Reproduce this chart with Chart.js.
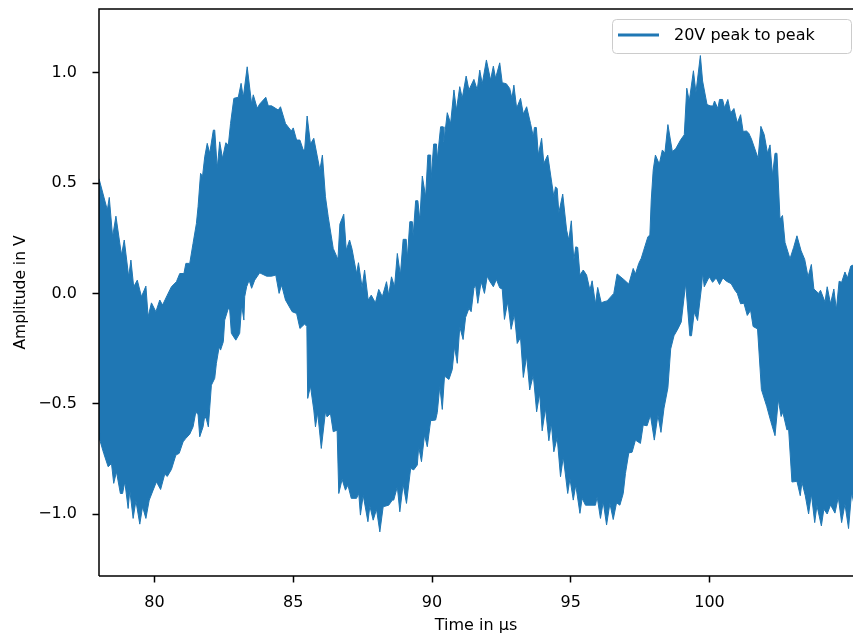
<!DOCTYPE html>
<html>
<head>
<meta charset="utf-8">
<script src="https://cdn.jsdelivr.net/npm/chart.js@4.4.1/dist/chart.umd.min.js"></script>
<style>
  html, body { margin: 0; padding: 0; background: #fff; }
  #wrap { width: 853px; height: 637px; }
</style>
</head>
<body>
<div id="wrap"><canvas id="chart" width="853" height="637"></canvas></div>
<script>
(function(){
  // upper and lower edge of the dense signal band (time in µs, amplitude in V)
  const tUpper = [
    78.00,78.30,78.37,78.49,78.61,78.81,78.91,79.07,79.15,79.25,
    79.38,79.53,79.69,79.77,79.89,80.05,80.19,80.29,80.46,80.61,
    80.79,80.91,81.06,81.13,81.27,81.39,81.51,81.57,81.66,81.73,
    81.81,81.90,81.99,82.12,82.17,82.26,82.35,82.45,82.57,82.66,
    82.74,82.86,83.02,83.12,83.20,83.34,83.50,83.56,83.70,83.79,
    84.01,84.10,84.22,84.46,84.54,84.72,84.93,85.00,85.12,85.24,
    85.36,85.41,85.50,85.62,85.74,85.96,86.05,86.16,86.26,86.44,
    86.61,86.68,86.82,86.91,87.03,87.12,87.28,87.35,87.48,87.57,
    87.70,87.81,87.96,88.08,88.21,88.36,88.44,88.54,88.65,88.75,
    88.86,88.96,89.07,89.11,89.20,89.29,89.32,89.41,89.49,89.56,
    89.65,89.77,89.85,89.95,89.97,90.06,90.16,90.19,90.31,90.40,
    90.43,90.55,90.67,90.79,90.88,91.00,91.09,91.23,91.33,91.51,
    91.63,91.72,91.81,91.96,92.11,92.21,92.29,92.44,92.53,92.68,
    92.80,92.88,92.95,93.05,93.19,93.29,93.41,93.55,93.65,93.69,
    93.76,93.83,93.95,94.03,94.17,94.30,94.39,94.45,94.51,94.57,
    94.71,94.85,94.93,95.02,95.11,95.18,95.25,95.33,95.45,95.57,
    95.69,95.77,95.89,95.97,96.10,96.19,96.31,96.55,96.67,96.91,
    97.09,97.25,97.33,97.45,97.54,97.63,97.78,97.85,97.90,97.97,
    98.05,98.19,98.30,98.39,98.50,98.66,98.78,98.96,99.09,99.18,
    99.27,99.42,99.51,99.67,99.75,99.91,100.02,100.12,100.18,100.30,
    100.36,100.47,100.54,100.66,100.76,100.88,101.00,101.12,101.21,101.33,
    101.41,101.51,101.75,101.85,101.97,102.09,102.18,102.27,102.36,102.43,
    102.54,102.63,102.72,102.90,103.03,103.15,103.30,103.43,103.55,103.67,
    103.76,103.93,104.00,104.16,104.24,104.36,104.48,104.57,104.67,104.76,
    104.88,104.97,105.09,105.21
  ];
  const vUpper = [
    0.52,0.378,0.435,0.257,0.35,0.174,0.242,0.075,0.151,0.03,
    0.06,-0.015,0.033,-0.106,-0.043,-0.083,-0.03,-0.053,-0.008,0.03,
    0.053,0.09,0.09,0.136,0.136,0.227,0.317,0.393,0.544,0.53,
    0.619,0.68,0.635,0.74,0.74,0.567,0.687,0.612,0.683,0.672,
    0.77,0.884,0.889,0.952,0.889,1.027,0.858,0.9,0.839,0.858,
    0.889,0.85,0.85,0.831,0.846,0.77,0.736,0.75,0.695,0.695,
    0.65,0.65,0.804,0.677,0.703,0.559,0.627,0.438,0.347,0.204,
    0.154,0.314,0.359,0.196,0.242,0.2,0.09,0.139,0.027,0.106,
    -0.03,-0.008,-0.043,0.018,-0.015,0.053,-0.008,0.075,0.03,0.181,
    0.083,0.245,0.245,0.159,0.325,0.325,0.26,0.42,0.42,0.332,
    0.532,0.438,0.627,0.627,0.521,0.677,0.677,0.607,0.755,0.755,
    0.687,0.819,0.77,0.922,0.831,0.937,0.885,0.985,0.922,0.97,
    0.922,1.012,0.95,1.058,0.967,1.03,0.975,1.045,0.955,0.95,
    0.929,0.884,0.944,0.839,0.884,0.813,0.846,0.77,0.71,0.752,
    0.752,0.627,0.703,0.589,0.627,0.514,0.438,0.483,0.475,0.365,
    0.45,0.287,0.242,0.329,0.151,0.211,0.208,0.083,0.106,0.083,
    0.015,0.057,-0.048,0.027,-0.043,-0.038,-0.034,0,0.088,0.063,
    0.042,0.113,0.088,0.136,0.159,0.196,0.257,0.264,0.423,0.559,
    0.627,0.586,0.65,0.635,0.765,0.643,0.655,0.696,0.719,0.93,
    0.872,1.009,0.91,1.078,0.963,0.856,0.85,0.849,0.872,0.838,
    0.879,0.879,0.841,0.879,0.818,0.838,0.772,0.81,0.734,0.736,
    0.727,0.70,0.612,0.757,0.72,0.635,0.673,0.536,0.635,0.635,
    0.337,0.353,0.231,0.157,0.208,0.261,0.193,0.154,0.075,0.131,
    0.02,0.0,0.014,-0.039,0.03,-0.047,0.02,-0.074,0.055,0.05,
    0.097,0.07,0.124,0.13
  ];
  const tLower = [
    78.00,78.03,78.17,78.33,78.45,78.53,78.63,78.77,78.85,78.93,
    79.05,79.11,79.23,79.33,79.47,79.57,79.69,79.81,79.95,80.07,
    80.22,80.37,80.46,80.61,80.77,80.89,81.03,81.13,81.27,81.39,
    81.49,81.57,81.63,81.75,81.81,81.87,81.94,81.99,82.05,82.17,
    82.23,82.33,82.38,82.48,82.53,82.66,82.71,82.77,82.93,83.07,
    83.14,83.22,83.25,83.32,83.41,83.50,83.61,83.79,84.04,84.22,
    84.37,84.49,84.58,84.72,84.96,85.12,85.24,85.41,85.49,85.52,
    85.62,85.74,85.80,85.88,86.01,86.16,86.22,86.34,86.44,86.58,
    86.64,86.76,86.88,86.97,87.09,87.28,87.36,87.42,87.52,87.69,
    87.76,87.88,88.00,88.12,88.24,88.44,88.57,88.62,88.75,88.84,
    88.96,89.08,89.23,89.34,89.47,89.52,89.62,89.73,89.83,89.95,
    90.13,90.19,90.28,90.37,90.45,90.61,90.73,90.81,90.91,91.00,
    91.12,91.21,91.33,91.41,91.51,91.57,91.65,91.77,91.89,91.99,
    92.08,92.21,92.32,92.44,92.53,92.61,92.73,92.85,92.97,93.07,
    93.19,93.29,93.41,93.52,93.65,93.77,93.88,93.97,94.09,94.21,
    94.30,94.39,94.51,94.63,94.73,94.89,94.97,95.09,95.18,95.33,
    95.41,95.53,95.89,95.95,96.07,96.17,96.29,96.41,96.53,96.65,
    96.77,96.89,96.97,97.09,97.21,97.33,97.51,97.61,97.75,97.87,
    98.01,98.14,98.25,98.36,98.50,98.60,98.72,98.86,98.98,99.14,
    99.29,99.35,99.45,99.57,99.72,99.75,99.81,99.99,100.11,100.24,
    100.36,100.48,100.61,100.78,100.91,101.00,101.12,101.24,101.36,101.48,
    101.57,101.73,101.87,102.06,102.21,102.36,102.48,102.58,102.64,102.79,
    102.85,102.97,103.15,103.27,103.33,103.45,103.57,103.67,103.79,103.87,
    104.03,104.12,104.24,104.36,104.52,104.64,104.76,104.88,105.01,105.12,105.21
  ];
  const vLower = [
    -0.635,-0.665,-0.725,-0.786,-0.771,-0.861,-0.809,-0.907,-0.907,-0.854,
    -0.975,-0.892,-1.02,-0.94,-1.046,-0.967,-1.02,-0.937,-0.892,-0.854,
    -0.889,-0.819,-0.83,-0.798,-0.733,-0.725,-0.673,-0.657,-0.638,-0.605,
    -0.537,-0.55,-0.65,-0.605,-0.556,-0.57,-0.605,-0.52,-0.416,-0.385,
    -0.317,-0.242,-0.257,-0.219,-0.121,-0.068,-0.075,-0.181,-0.212,-0.181,
    -0.053,-0.121,-0.015,0.03,0.06,0.023,0.06,0.093,0.078,0.078,
    0.083,0.0,0.038,-0.03,-0.083,-0.091,-0.159,-0.139,-0.15,-0.476,
    -0.42,-0.529,-0.605,-0.541,-0.703,-0.537,-0.56,-0.544,-0.627,-0.62,
    -0.907,-0.843,-0.892,-0.869,-0.929,-0.929,-0.907,-1.005,-0.915,-1.035,
    -0.964,-1.028,-0.979,-1.081,-0.967,-0.96,-0.937,-0.937,-0.877,-0.99,
    -0.865,-0.952,-0.793,-0.80,-0.778,-0.695,-0.763,-0.642,-0.695,-0.577,
    -0.574,-0.54,-0.42,-0.526,-0.375,-0.39,-0.345,-0.242,-0.317,-0.151,
    -0.209,-0.109,-0.068,-0.083,0.023,0.038,-0.045,0.053,0.0,0.078,
    0.055,0.03,0.063,0.025,0.02,-0.118,-0.038,-0.163,-0.095,-0.227,
    -0.2,-0.381,-0.284,-0.438,-0.37,-0.537,-0.453,-0.623,-0.521,-0.668,
    -0.589,-0.718,-0.653,-0.831,-0.741,-0.907,-0.839,-0.937,-0.869,-0.997,
    -0.929,-0.96,-0.96,-0.922,-1.02,-0.945,-1.05,-0.952,-1.025,-0.949,
    -0.96,-0.907,-0.816,-0.723,-0.72,-0.665,-0.68,-0.597,-0.60,-0.552,
    -0.665,-0.552,-0.63,-0.52,-0.428,-0.252,-0.192,-0.161,-0.13,0.045,
    -0.192,-0.192,-0.085,-0.123,0.038,0.093,0.03,0.075,0.05,0.07,
    0.04,0.07,0.055,0.044,0.015,0.0,-0.047,-0.045,-0.1,-0.077,
    -0.15,-0.161,-0.436,-0.512,-0.581,-0.645,-0.481,-0.558,-0.538,-0.619,
    -0.615,-0.855,-0.852,-0.917,-0.855,-0.917,-1.0,-0.909,-1.039,-0.962,
    -1.054,-0.978,-1.0,-0.959,-0.996,-0.924,-1.039,-0.955,-1.066,-0.901,-0.96
  ];
  const xTickValues = [80, 85, 90, 95, 100];
  const yTickValues = [-1.0, -0.5, 0.0, 0.5, 1.0];
  const seriesLabel = '20V peak to peak';

  const blue = '#1f77b4';
  const fontFamily = "'DejaVu Sans', sans-serif";

  function toPoints(ts, vs) {
    const n = Math.min(ts.length, vs.length);
    const pts = [];
    for (let i = 0; i < n; i++) pts.push({x: ts[i], y: vs[i]});
    return pts;
  }

  // no extra label padding, the frame is placed by layout.padding and afterFit only
  function noPadding(scale) {
    scale.paddingTop = 0;
    scale.paddingBottom = 0;
    scale.paddingLeft = 0;
    scale.paddingRight = 0;
  }

  // left, top and bottom frame lines (the right one is cut off in the original)
  const spines = {
    id: 'spines',
    afterDatasetsDraw(chart) {
      const {ctx, chartArea: a} = chart;
      ctx.save();
      ctx.strokeStyle = '#000';
      ctx.lineWidth = 1.5;
      ctx.beginPath();
      ctx.moveTo(a.left, a.bottom);
      ctx.lineTo(a.left, a.top);
      ctx.lineTo(chart.width, a.top);
      ctx.moveTo(a.left, a.bottom);
      ctx.lineTo(chart.width, a.bottom);
      ctx.stroke();
      ctx.restore();
    }
  };

  // matplotlib style legend box inside the upper right corner
  const boxLegend = {
    id: 'boxLegend',
    afterDraw(chart) {
      const {ctx, chartArea: a} = chart;
      const w = 239, h = 34;
      const x = a.right - 2 - w, y = a.top + 10;
      ctx.save();
      ctx.beginPath();
      ctx.roundRect(x + 0.5, y + 0.5, w, h, 4);
      ctx.fillStyle = 'rgba(255,255,255,0.8)';
      ctx.fill();
      ctx.strokeStyle = '#cccccc';
      ctx.lineWidth = 1;
      ctx.stroke();
      ctx.strokeStyle = blue;
      ctx.lineWidth = 2.8;
      ctx.beginPath();
      ctx.moveTo(x + 6, y + 16);
      ctx.lineTo(x + 47, y + 16);
      ctx.stroke();
      ctx.fillStyle = '#000';
      ctx.font = '16px ' + fontFamily;
      ctx.textBaseline = 'middle';
      ctx.fillText(chart.data.datasets[0].label, x + 62, y + 17);
      ctx.restore();
    }
  };

  new Chart(document.getElementById('chart'), {
    type: 'line',
    data: {
      datasets: [
        {
          label: seriesLabel,
          data: toPoints(tUpper, vUpper),
          borderColor: blue,
          borderWidth: 1,
          backgroundColor: blue,
          pointRadius: 0,
          tension: 0,
          fill: false
        },
        {
          label: seriesLabel,
          data: toPoints(tLower, vLower),
          borderColor: blue,
          borderWidth: 1,
          backgroundColor: blue,
          pointRadius: 0,
          tension: 0,
          fill: '-1'
        }
      ]
    },
    options: {
      responsive: false,
      animation: false,
      devicePixelRatio: 1,
      layout: { padding: { top: 9, right: 0, left: 0, bottom: 0 } },
      plugins: {
        legend: { display: false },
        tooltip: { enabled: false }
      },
      scales: {
        x: {
          type: 'linear',
          min: 78,
          max: 105.17,
          afterFit(scale) { scale.height = 61; noPadding(scale); },
          afterBuildTicks(scale) { scale.ticks = xTickValues.map(v => ({value: v})); },
          grid: { drawOnChartArea: false, drawTicks: true, tickLength: 6.5, tickColor: '#000', tickWidth: 1.5 },
          border: { display: false },
          ticks: {
            color: '#000',
            padding: 11,
            maxRotation: 0,
            font: { family: fontFamily, size: 16 },
            callback: v => String(v)
          },
          title: {
            display: true,
            text: 'Time in μs',
            color: '#000',
            font: { family: fontFamily, size: 16 },
            padding: { top: 0, bottom: 2 }
          }
        },
        y: {
          min: -1.281,
          max: 1.289,
          afterFit(scale) { scale.width = 99; noPadding(scale); },
          afterBuildTicks(scale) { scale.ticks = yTickValues.map(v => ({value: v})); },
          grid: { drawOnChartArea: false, drawTicks: true, tickLength: 6.5, tickColor: '#000', tickWidth: 1.5 },
          border: { display: false },
          ticks: {
            color: '#000',
            padding: 15.5,
            font: { family: fontFamily, size: 16 },
            callback: v => (v < 0 ? '\u2212' : '') + Math.abs(v).toFixed(1)
          },
          title: {
            display: true,
            text: 'Amplitude in V',
            color: '#000',
            font: { family: fontFamily, size: 15.5 },
            padding: { top: 12, bottom: 0 }
          }
        }
      }
    },
    plugins: [spines, boxLegend]
  });
})();
</script>
</body>
</html>
